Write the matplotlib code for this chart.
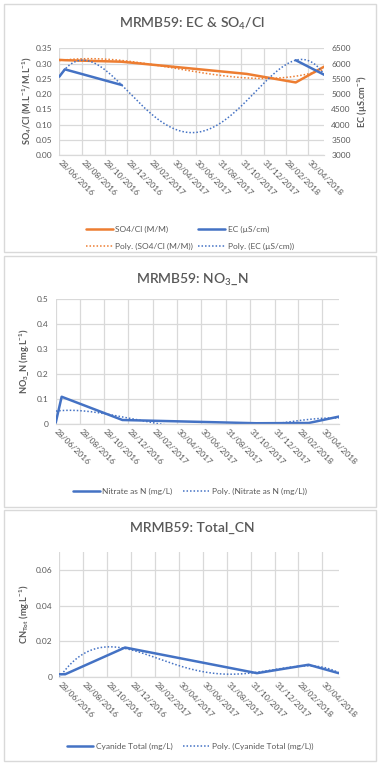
import numpy as np
import pandas as pd
import matplotlib
matplotlib.use("Agg")
import matplotlib.pyplot as plt
import matplotlib.dates as mdates
from matplotlib.patches import Rectangle

W, H = 379, 763
plt.rcParams["font.family"] = ["Lato", "DejaVu Sans"]
plt.rcParams["mathtext.default"] = "regular"

# Sampling dates and measured values for borehole MRMB59
sample_dates = ["28/06/2016", "13/07/2016", "13/12/2016", "15/11/2017", "27/03/2018", "12/06/2018"]
so4_cl = [0.312, 0.311, 0.306, 0.266, 0.238, 0.290]          # M/M
ec = [5570, 5810, 5297, np.nan, 6109, 5630]                   # uS/cm
nitrate_n = [0.005, 0.109, 0.016, 0.003, 0.004, 0.030]        # mg/L
cyanide_total = [0.0017, 0.0017, 0.0166, 0.0023, 0.0070, 0.0023]  # mg/L

tick_dates = ["28/06/2016", "28/08/2016", "28/10/2016", "28/12/2016", "28/02/2017",
              "30/04/2017", "30/06/2017", "31/08/2017", "31/10/2017", "31/12/2017",
              "28/02/2018", "30/04/2018"]

ORANGE = "#ED7D31"
BLUE = "#4472C4"
GRID = "#d9d9d9"
TEXT = "#595959"

x = mdates.date2num(pd.to_datetime(sample_dates, dayfirst=True))
xticks = mdates.date2num(pd.to_datetime(tick_dates, dayfirst=True))


def poly_trend(xv, yv, order):
    yv = np.asarray(yv, dtype=float)
    m = ~np.isnan(yv)
    c = np.polyfit(xv[m] - xv[0], yv[m], order)
    xs = np.linspace(xv[0], xv[-1], 400)
    return xs, np.polyval(c, xs - xv[0])


def px_axes(x0, x1, y0, y1):
    return fig.add_axes([x0 / W, 1 - y1 / H, (x1 - x0) / W, (y1 - y0) / H])


def style(ax, ylim, yticks, ylabels):
    ax.set_xlim(x[0], x[-1])
    ax.set_ylim(*ylim)
    ax.set_yticks(yticks)
    ax.set_yticklabels(ylabels)
    ax.set_xticks(xticks)
    ax.set_xticklabels(tick_dates, rotation=-45, rotation_mode="anchor",
                       ha="left", va="center")
    ax.grid(True, color=GRID, lw=0.9)
    ax.set_axisbelow(True)
    for s in ["left", "right", "top"]:
        ax.spines[s].set_visible(False)
    ax.spines["bottom"].set_color(GRID)
    ax.spines["bottom"].set_linewidth(0.9)
    ax.tick_params(length=0, colors=TEXT, labelsize=6)
    ax.tick_params(axis="x", pad=4.5, labelsize=6.1)
    ax.tick_params(axis="y", pad=5)


fig = plt.figure(figsize=(W / 100, H / 100), dpi=100)
fig.patch.set_facecolor("white")

# panel frames
for (y0, y1) in [(4, 252), (256, 507), (510, 761)]:
    fig.patches.append(Rectangle((4 / W, 1 - y1 / H), 372 / W, (y1 - y0) / H,
                                 transform=fig.transFigure, fill=False,
                                 edgecolor=GRID, lw=1))

dot = (0, (1, 1.3))
title_kw = dict(ha="center", va="center", fontsize=10, color=TEXT, fontweight="semibold")
ylab_kw = dict(rotation=90, ha="center", va="center", fontsize=6.6,
               fontweight="bold", color=TEXT)
leg_kw = dict(frameon=False, loc="center", fontsize=6, labelcolor=TEXT,
              handlelength=3.2, handletextpad=0.3)

# ---- EC & SO4/Cl ----
ax1 = px_axes(59.3, 324.3, 48.3, 155)
style(ax1, (0, 0.35), np.arange(0, 0.351, 0.05),
      [f"{v:.2f}" for v in np.arange(0, 0.351, 0.05)])
ax1b = ax1.twinx()
ax1b.set_ylim(3000, 6500)
ax1b.set_yticks(np.arange(3000, 6501, 500))
for s in ["left", "right", "top", "bottom"]:
    ax1b.spines[s].set_visible(False)
ax1b.tick_params(length=0, colors=TEXT, labelsize=6, pad=5)

h1, = ax1.plot(x, so4_cl, color=ORANGE, lw=1.8, solid_capstyle="round")
xs, ys = poly_trend(x, so4_cl, 3)
h2, = ax1.plot(xs, ys, color=ORANGE, lw=1.1, ls=dot)
h3, = ax1b.plot(x, ec, color=BLUE, lw=1.8, solid_capstyle="round")
xs, ys = poly_trend(x, ec, 4)
h4, = ax1b.plot(xs, ys, color=BLUE, lw=1.1, ls=dot)

fig.text(192 / W, 1 - 24 / H, "MRMB59: EC & SO$_4$/Cl", **title_kw)
fig.text(27 / W, 1 - 101 / H, "SO$_4$/Cl (M.L$^{-1}$/M.L$^{-1}$)", **ylab_kw)
fig.text(363 / W, 1 - 101 / H, "EC (µS.cm$^{-1}$)", **ylab_kw)
ax1.legend([h1, h2, h3, h4],
           ["SO4/Cl (M/M)", "Poly. (SO4/Cl (M/M))", "EC (µS/cm)", "Poly. (EC (µS/cm))"],
           ncol=2, bbox_to_anchor=(190 / W, 1 - 238 / H), bbox_transform=fig.transFigure,
           columnspacing=0.6, labelspacing=1.25, **leg_kw)

# ---- NO3_N ----
ax2 = px_axes(55.7, 339.3, 299, 424)
style(ax2, (0, 0.5), np.arange(0, 0.51, 0.1),
      ["0", "0.1", "0.2", "0.3", "0.4", "0.5"])
g1, = ax2.plot(x, nitrate_n, color=BLUE, lw=1.8, solid_capstyle="round")
xs, ys = poly_trend(x, nitrate_n, 4)
g2, = ax2.plot(xs, ys, color=BLUE, lw=1.1, ls=dot)
fig.text(192 / W, 1 - 279 / H, "MRMB59: NO$_3$_N", **title_kw)
fig.text(25 / W, 1 - 361 / H, "NO$_3$_N (mg.L$^{-1}$)", **ylab_kw)
ax2.legend([g1, g2], ["Nitrate as N (mg/L)", "Poly. (Nitrate as N (mg/L))"],
           ncol=2, bbox_to_anchor=(190 / W, 1 - 491 / H), bbox_transform=fig.transFigure,
           columnspacing=1.2, **leg_kw)

# ---- Total_CN ----
ax3 = px_axes(59.3, 338.7, 551.7, 677.3)
style(ax3, (0, 0.07), [0, 0.02, 0.04, 0.06], ["0", "0.02", "0.04", "0.06"])
k1, = ax3.plot(x, cyanide_total, color=BLUE, lw=1.8, solid_capstyle="round")
xs, ys = poly_trend(x, cyanide_total, 4)
k2, = ax3.plot(xs, ys, color=BLUE, lw=1.1, ls=dot)
fig.text(192 / W, 1 - 528 / H, "MRMB59: Total_CN", **title_kw)
fig.text(25 / W, 1 - 614 / H, "CN$_{Tot}$ (mg.L$^{-1}$)", **ylab_kw)
ax3.legend([k1, k2], ["Cyanide Total (mg/L)", "Poly. (Cyanide Total (mg/L))"],
           ncol=2, bbox_to_anchor=(190 / W, 1 - 746 / H), bbox_transform=fig.transFigure,
           columnspacing=1.2, **leg_kw)

fig.savefig("out.png", dpi=100, facecolor="white")
